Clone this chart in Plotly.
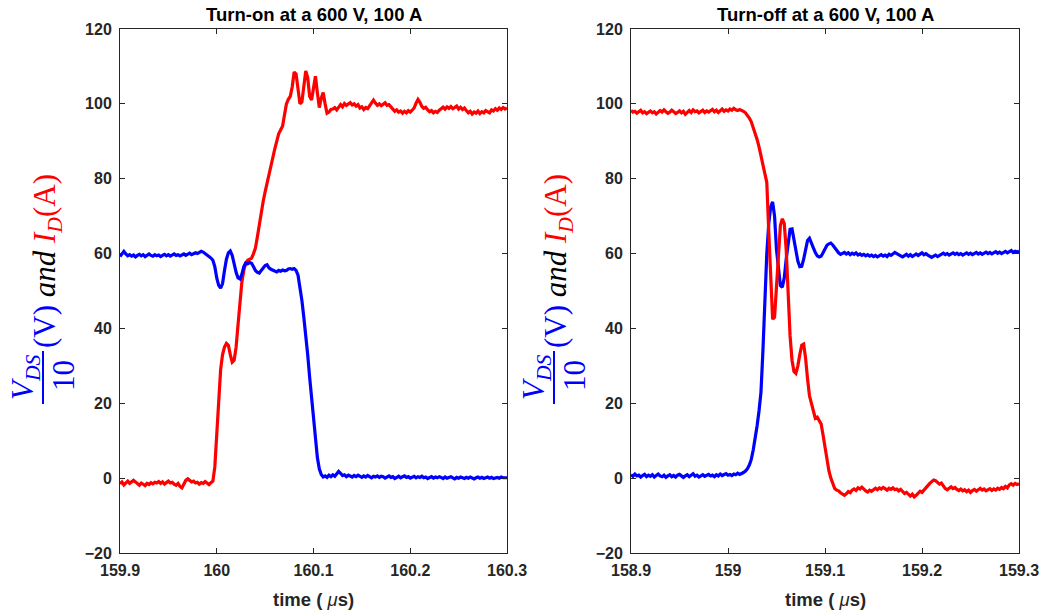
import numpy as np
import plotly.graph_objects as go

# ---------------- data ----------------
dt = 0.002  # sampling step (µs)
t0_on = 159.9
t0_off = 158.9

# Turn-on: drain current I_D (A)
id_on = [
    -1.5,-1.0,-1.8,-1.2,-0.8,-1.4,-1.1,-0.6,-1.0,-1.5,
    -1.9,-1.3,-1.6,-2.0,-1.4,-1.7,-1.2,-1.5,-1.1,-1.3,
    -0.9,-1.4,-1.0,-1.6,-1.2,-0.8,-1.3,-1.1,-1.6,-1.9,
    -1.4,-2.2,-2.6,-1.5,-0.6,-0.2,-0.5,-1.0,-0.8,-1.3,
    -1.1,-1.6,-1.2,-1.4,-0.9,-1.3,-1.7,-1.2,
    -0.8,3,12,22,29,33,35,36,35.5,33,
    31,31.5,35,41,48,52.5,55.5,57.5,58.2,58.5,
    58.8,60,61.5,64.5,68,71,74,76.5,79,81,
    83.5,86,88,90,92,93,94,97,100,101.2,
    102,104.5,108.5,108,103,100,100.5,105,108.8,107,
    102,101,104,107.4,103,99,101.5,103,100,97.5,
    97.8,98.5,
    98.6,99.0,98.4,99.3,99.8,99.2,100.1,99.6,99.9,100.3,
    99.7,100.0,99.4,99.8,98.9,99.2,98.5,99.0,98.7,99.6,
    100.4,101.0,100.2,99.6,100.0,99.5,99.9,100.3,99.6,99.8,
    99.2,98.6,98.0,98.4,97.8,98.1,97.5,98.0,97.6,98.2,
    97.8,98.3,98.9,100.2,101.2,100.4,99.3,98.8,99.1,98.4,
    97.9,98.2,97.6,98.0,97.7,98.3,98.7,99.1,98.6,99.2,
    98.8,99.3,98.7,99.0,99.4,98.6,99.1,98.5,98.9,98.2,
    97.6,98.0,97.3,97.8,97.5,98.1,97.4,97.9,97.6,98.2,
    98.0,97.6,98.4,98.1,98.7,98.3,98.9,98.5,99.0,98.6,98.9,
]

# Turn-on: V_DS / 10 (V)
vds_on = [
    59.2,59.8,60.6,59.9,59.4,59.7,59.3,59.6,59.1,59.5,
    59.8,59.4,59.7,59.2,59.6,59.9,59.5,59.3,59.7,59.4,
    59.6,59.2,59.5,59.8,59.4,59.7,59.3,59.6,59.9,59.5,
    59.7,59.4,59.6,59.9,59.5,59.8,60.1,59.7,59.9,60.2,
    60.0,60.3,60.6,60.4,60.0,59.6,59.3,58.8,
    58.2,56.5,53.5,51.5,50.8,52,55.5,58.5,60.2,60.7,
    59.5,57,55,53.5,53.2,54.5,56.5,57.5,57.3,57.6,
    57.4,56.5,55.5,55,54.8,55.5,56.3,56.8,57,56.2,
    55.8,55.5,55.3,55.1,55.5,55.3,55.6,55.4,55.5,55.9,
    56,55.8,56,55.5,54.2,51,47.5,43,38.7,33,
    27,21,15,10,5.5,2.5,1,0.3,
    0.6,0.2,0.8,0.4,0.9,0.5,1.2,1.8,1.3,0.7,
    0.9,0.4,0.8,0.5,0.3,0.7,0.4,0.8,0.5,0.2,
    0.6,0.3,0.7,0.4,0.1,0.5,0.3,0.6,0.2,0.5,
    0.4,0.0,0.3,0.6,0.2,0.4,-0.1,0.3,0.5,0.1,
    0.3,0.6,0.2,0.4,0.0,0.3,0.5,0.1,0.4,0.2,
    0.5,0.1,0.3,-0.1,0.2,0.4,0.0,0.3,0.1,0.4,
    0.2,-0.1,0.3,0.0,0.2,0.4,0.1,-0.2,0.2,0.0,
    0.3,0.1,-0.1,0.2,0.0,0.3,0.1,-0.2,0.1,0.3,
    0.0,0.2,-0.1,0.1,0.3,0.0,0.2,-0.1,0.1,0.2,
    0.0,0.3,0.1,0.2,0.1,
]

# Turn-off: drain current I_D (A)
id_off = [
    98.2,97.8,98.0,97.5,97.9,98.3,97.6,97.9,97.4,97.8,
    98.1,97.6,97.9,97.3,97.7,98.2,97.8,98.4,97.9,97.5,
    97.8,98.3,97.9,97.4,97.7,98.1,97.6,98.0,97.2,97.8,
    98.2,97.7,98.4,97.9,98.1,97.6,98.0,98.3,97.7,98.1,
    97.8,98.2,98.5,97.9,98.3,97.7,98.1,98.6,98.0,98.4,
    98.1,98.6,98.3,98.8,98.4,98.2,98.5,98.3,98.0,97.6,
    97.0,96.2,95.2,93.8,92.2,90.5,88.5,86,83.5,81,
    79,66,52,42.5,43,52,62,67.5,69.3,68,
    61,49,38,31.5,28.5,28,30,33,35.5,35.8,
    32,26.5,22,20,17.5,16,16.3,15.5,14.5,11.5,
    8,5,2,0,-1.5,-2.8,-3.2,
    -3.4,-3.9,-4.3,-4.6,-4.2,-3.6,-3.9,-3.2,-2.9,-3.3,
    -2.6,-2.9,-2.4,-3.0,-3.4,-3.7,-3.2,-3.5,-3.0,-2.7,
    -3.1,-2.6,-2.9,-2.5,-2.8,-3.2,-2.7,-3.0,-2.6,-3.1,
    -2.9,-3.4,-3.0,-3.6,-4.1,-3.8,-4.4,-4.8,-4.3,-5.0,
    -4.6,-3.9,-3.5,-3.8,-3.1,-2.5,-2.0,-1.4,-0.9,-0.5,
    -0.7,-1.2,-1.6,-1.3,-2.2,-2.8,-3.1,-2.6,-2.3,-2.8,
    -2.5,-3.0,-3.3,-2.9,-3.4,-3.1,-3.6,-3.2,-3.8,-3.3,
    -3.0,-3.5,-3.1,-2.7,-3.2,-2.9,-3.4,-3.0,-2.8,-3.3,
    -2.9,-3.2,-2.7,-3.0,-2.5,-2.8,-2.2,-2.6,-1.8,-1.5,
    -1.9,-1.4,-1.7,-1.5,
]

# Turn-off: V_DS / 10 (V)
vds_off = [
    0.9,0.5,1.1,0.6,0.8,0.3,0.7,1.0,0.4,0.8,
    0.5,0.9,0.3,0.7,1.1,0.6,0.4,0.8,0.2,0.6,
    0.9,0.4,0.7,0.3,0.8,1.0,0.5,0.2,0.6,0.9,
    0.4,0.7,1.2,0.5,0.8,0.3,0.6,0.9,0.5,0.7,
    1.0,0.6,0.8,0.4,0.9,0.6,1.1,0.7,0.9,1.2,
    0.8,1.0,0.7,1.1,0.9,1.3,1.0,1.2,1.5,1.9,
    2.5,3.5,5,7.5,10.5,14,18,23,34,48,
    60,68,72.5,73.8,70,61,55.5,51.5,51,53.5,
    58.5,63.5,66.5,66.6,63.5,60.5,58,56.5,56.6,58.5,
    61.5,63.5,64.1,63,61.5,60.3,59.4,59.1,59.3,60.2,
    61.4,62.2,62.6,62.8,62.3,61.5,60.8,60.2,59.8,60.1,
    60.3,59.9,60.2,59.7,60.1,59.8,60.2,59.6,59.9,59.5,
    59.8,59.4,59.7,59.3,59.6,59.2,59.5,59.1,59.4,59.7,
    59.3,59.6,59.2,59.8,59.5,59.9,60.3,60.0,59.6,59.4,
    59.1,59.5,59.8,59.3,59.7,59.2,59.6,59.9,59.5,59.8,
    60.2,59.7,60.0,59.6,59.4,59.0,59.3,59.6,59.2,59.5,
    59.8,60.1,59.7,60.0,59.6,59.9,60.2,59.8,60.1,59.7,
    60.0,59.6,59.9,60.2,59.8,60.1,59.7,60.0,60.3,59.9,
    60.2,59.8,60.1,60.4,60.0,60.3,59.9,60.2,60.5,60.1,
    60.4,60.0,60.3,60.6,60.2,60.5,60.8,60.3,60.6,60.4,60.7,
]

xticks_on = [159.9, 160.0, 160.1, 160.2, 160.3]
xticklabels_on = ["159.9", "160", "160.1", "160.2", "160.3"]
xticks_off = [158.9, 159.0, 159.1, 159.2, 159.3]
xticklabels_off = ["158.9", "159", "159.1", "159.2", "159.3"]
yticks = [-20, 0, 20, 40, 60, 80, 100, 120]
titles = ["Turn-on at a 600 V, 100 A", "Turn-off at a 600 V, 100 A"]

# ---------------- figure ----------------
W, H = 1040, 613
def px(x):
    return x / W
def py(y):
    return 1 - y / H

RED = "rgb(255,0,0)"
BLUE = "rgb(0,0,255)"
AX = "#262626"

t_on_i = t0_on + dt * np.arange(len(id_on))
t_on_v = t0_on + dt * np.arange(len(vds_on))
t_off_i = t0_off + dt * np.arange(len(id_off))
t_off_v = t0_off + dt * np.arange(len(vds_off))

fig = go.Figure()
fig.add_trace(go.Scatter(x=t_on_i, y=id_on, mode="lines", line=dict(color=RED, width=3.2),
                         xaxis="x", yaxis="y", showlegend=False))
fig.add_trace(go.Scatter(x=t_on_v, y=vds_on, mode="lines", line=dict(color=BLUE, width=3.2),
                         xaxis="x", yaxis="y", showlegend=False))
fig.add_trace(go.Scatter(x=t_off_v, y=vds_off, mode="lines", line=dict(color=BLUE, width=3.2),
                         xaxis="x2", yaxis="y2", showlegend=False))
fig.add_trace(go.Scatter(x=t_off_i, y=id_off, mode="lines", line=dict(color=RED, width=3.2),
                         xaxis="x2", yaxis="y2", showlegend=False))

tickfont = dict(family="Liberation Sans, Arial, sans-serif", size=16, color=AX, weight="bold")
ydom = [py(553), py(29)]
common_x = dict(showgrid=False, zeroline=False, showline=True, linecolor=AX, linewidth=1,
                mirror="ticks", ticks="inside", ticklen=5, tickcolor=AX, tickwidth=1,
                tickfont=tickfont, ticklabelstandoff=3, automargin=False)
common_y = dict(showgrid=False, zeroline=False, showline=True, linecolor=AX, linewidth=1,
                mirror="ticks", ticks="inside", ticklen=5, tickcolor=AX, tickwidth=1,
                tickfont=tickfont, range=[-20, 120], tickvals=yticks,
                ticklabelstandoff=4, automargin=False)

fig.update_layout(
    width=W, height=H, margin=dict(l=0, r=0, t=0, b=0, pad=0, autoexpand=False),
    paper_bgcolor="white", plot_bgcolor="white",
    xaxis=dict(domain=[px(120), px(507)], range=[159.9, 160.3], tickvals=xticks_on,
               ticktext=xticklabels_on, anchor="y", **common_x),
    yaxis=dict(domain=ydom, anchor="x", **common_y),
    xaxis2=dict(domain=[px(631), px(1019)], range=[158.9, 159.3], tickvals=xticks_off,
                ticktext=xticklabels_off, anchor="y2", **common_x),
    yaxis2=dict(domain=ydom, anchor="x2", **common_y),
)

annotations = []
shapes = []
for k, (x0, x1) in enumerate([(120, 507), (631, 1019)]):
    cx = (x0 + x1) / 2
    # title
    annotations.append(dict(xref="paper", yref="paper", x=px(cx), y=py(14),
                            xanchor="center", yanchor="middle", showarrow=False,
                            text="<b>" + titles[k] + "</b>",
                            font=dict(family="Liberation Sans, Arial", size=18.5, color="black")))
    # x axis title
    annotations.append(dict(xref="paper", yref="paper", x=px(cx), y=py(599),
                            xanchor="center", yanchor="middle", showarrow=False,
                            text="<b>time ( </b><i>\u03bc</i><b>s)</b>",
                            font=dict(family="Liberation Sans, Arial", size=18.5, color=AX)))
    off = 0 if k == 0 else 511
    serif = "Liberation Serif, DejaVu Serif, serif"
    # main part of y label
    annotations.append(dict(xref="paper", yref="paper", x=px(47 + off), y=py(350),
                            xanchor="center", yanchor="bottom", showarrow=False, textangle=-90,
                            text=("<span style='color:blue'>(V)</span> <i>and</i> "
                                  "<span style='color:red'><i>I</i><sub><i>D</i></sub>(A)</span>"),
                            font=dict(family=serif, size=31, color="black")))
    # numerator
    annotations.append(dict(xref="paper", yref="paper", x=px(25 + off), y=py(377),
                            xanchor="center", yanchor="middle", showarrow=False, textangle=-90,
                            text="<i>V</i><sub><i>DS</i></sub>",
                            font=dict(family=serif, size=31, color="blue")))
    # denominator
    annotations.append(dict(xref="paper", yref="paper", x=px(63 + off), y=py(376),
                            xanchor="center", yanchor="middle", showarrow=False, textangle=-90,
                            text="10",
                            font=dict(family=serif, size=31, color="blue")))
    shapes.append(dict(type="line", xref="paper", yref="paper",
                       x0=px(43 + off), x1=px(43 + off), y0=py(351), y1=py(404),
                       line=dict(color="blue", width=2)))

fig.update_layout(annotations=annotations, shapes=shapes)
fig.write_html("out.html")
